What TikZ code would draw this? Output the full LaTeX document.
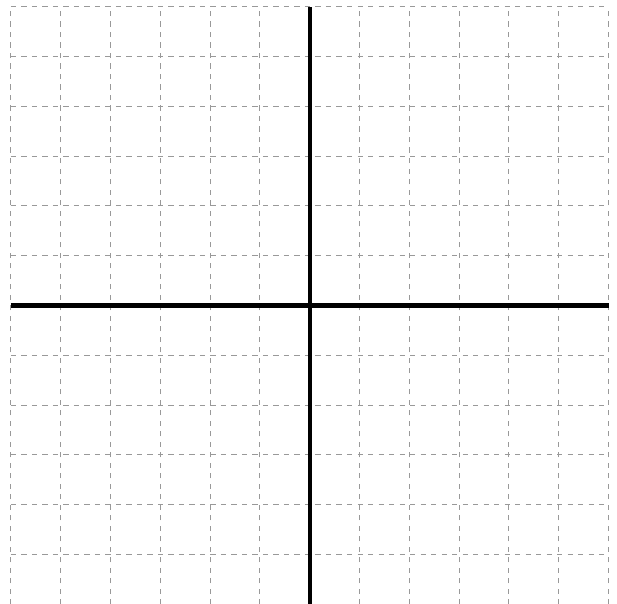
\documentclass[tikz,border=0pt]{standalone}
\begin{document}
\begin{tikzpicture}[
    gridline/.style={gray!80, dashed, line width=0.6pt},
    axisline/.style={black, line width=2.4pt}]
      \useasboundingbox (-6.22,-5.985) rectangle (6.17,6.135);
      \draw[gridline] (-6,-6) grid (6,6);
      \coordinate (xmin) at (-6,0);
      \coordinate (xmax) at (6,0);
      \coordinate (ymin) at (0,-6);
      \coordinate (ymax) at (0,6);
      \begin{scope}[axisline]
        \draw (xmin) to (xmax);
        \draw (ymin) to (ymax);
      \end{scope}
    \end{tikzpicture}
\end{document}
